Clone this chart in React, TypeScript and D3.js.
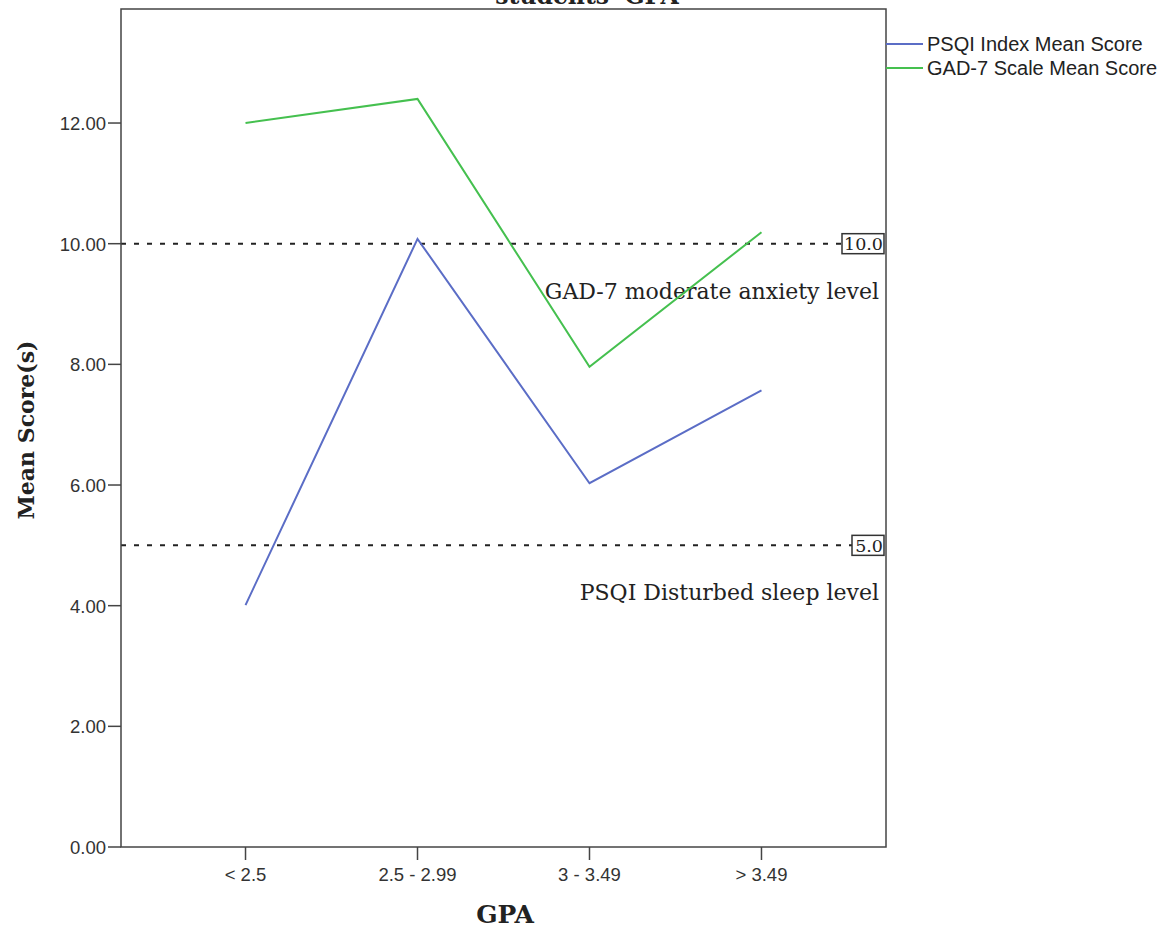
import React from "react";
import * as d3 from "d3";

const categories = ["< 2.5", "2.5 - 2.99", "3 - 3.49", "> 3.49"];
const psqiValues = [4.01, 10.08, 6.03, 7.57];
const gadValues = [12.0, 12.4, 7.96, 10.19];
const yTicks = [0, 2, 4, 6, 8, 10, 12];
const refLines = [
  { value: 10, box: "10.0", label: "GAD-7 moderate anxiety level" },
  { value: 5, box: "5.0", label: "PSQI Disturbed sleep level" },
];
const series = [
  { name: "PSQI Index Mean Score", values: psqiValues, color: "#5b6dc6" },
  { name: "GAD-7 Scale Mean Score", values: gadValues, color: "#45c04f" },
];

const W = 1174, H = 932;
const L = 121, R = 886, T = 9, B = 847;

export default function App() {
  const x = d3.scalePoint<string>().domain(categories).range([L, R]).padding(0.724);
  const y = d3.scaleLinear().domain([0, 13.89]).range([B, T]);
  const line = d3.line<number>().x((_, i) => x(categories[i])!).y((d) => y(d));
  const sans = "'Liberation Sans', Arial, sans-serif";
  const serif = "'DejaVu Serif', serif";
  return (
    <svg width={W} height={H} style={{ position: "absolute", left: 0, top: 0, background: "#fff" }}>
      <text x={587} y={4} textAnchor="middle" fontFamily={serif} fontWeight="bold" fontSize={23.5} fill="#222">students' GPA</text>
      {refLines.map((r) => {
        const yy = y(r.value);
        const bw = r.box.length * 10 + 2;
        return (
          <g key={r.box}>
            <line x1={L} x2={R - bw - 2} y1={yy} y2={yy} stroke="#222" strokeWidth={2} strokeDasharray="5 8" />
            <rect x={R - bw - 2} y={yy - 10} width={bw} height={20} fill="#fff" stroke="#333" strokeWidth={1.5} />
            <text x={R - 3} y={yy + 6.5} textAnchor="end" fontFamily={serif} fontSize={17.5} fill="#222">{r.box}</text>
            <text x={879} y={yy + 55} textAnchor="end" fontFamily={serif} fontSize={22} fill="#222">{r.label}</text>
          </g>
        );
      })}
      {series.map((s) => (
        <path key={s.name} d={line(s.values)!} fill="none" stroke={s.color} strokeWidth={2} />
      ))}
      <rect x={L} y={T} width={R - L} height={B - T} fill="none" stroke="#444" strokeWidth={1.5} />
      {yTicks.map((t) => (
        <g key={t}>
          <line x1={L - 13} x2={L} y1={y(t)} y2={y(t)} stroke="#444" strokeWidth={1.5} />
          <text x={L - 15} y={y(t) + 7} textAnchor="end" fontFamily={sans} fontSize={18.5} fill="#333">{t.toFixed(2)}</text>
        </g>
      ))}
      {categories.map((c) => (
        <g key={c}>
          <line x1={x(c)} x2={x(c)} y1={B} y2={B + 13} stroke="#444" strokeWidth={1.5} />
          <text x={x(c)} y={B + 34} textAnchor="middle" fontFamily={sans} fontSize={18.5} fill="#333">{c}</text>
        </g>
      ))}
      <text transform={`translate(34,${430}) rotate(-90)`} textAnchor="middle" fontFamily={serif} fontWeight="bold" fontSize={22} fill="#222">Mean Score(s)</text>
      <text x={505} y={923} textAnchor="middle" fontFamily={serif} fontWeight="bold" fontSize={25} fill="#222">GPA</text>
      {series.map((s, i) => (
        <g key={s.name}>
          <line x1={R} x2={923} y1={44 + i * 24} y2={44 + i * 24} stroke={s.color} strokeWidth={2} />
          <text x={927} y={51 + i * 24} fontFamily={sans} fontSize={20} fill="#222">{s.name}</text>
        </g>
      ))}
    </svg>
  );
}
